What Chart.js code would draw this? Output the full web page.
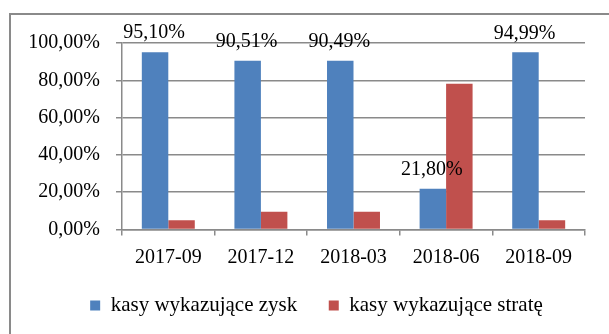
<!DOCTYPE html>
<html>
<head>
<meta charset="utf-8">
<script src="https://cdn.jsdelivr.net/npm/chart.js@4"></script>
<style>
    html, body { margin: 0; padding: 0; background: #fff; overflow: hidden; }
    #frame {
        position: absolute; left: 9px; top: 13px;
        width: 700px; height: 400px;
        border: 2px solid #8a8a8a;
    }
    #wrap { position: absolute; left: 0; top: 0; width: 609px; height: 334px; }
</style>
</head>
<body>
<div id="frame"></div>
<div id="wrap"><canvas id="kasyChart"></canvas></div>
<script>
// Quarterly share of funds reporting profit vs. loss
const periods = ['2017-09', '2017-12', '2018-03', '2018-06', '2018-09'];
const profitShare = [95.10, 90.51, 90.49, 21.80, 94.99];
const lossShare = [4.90, 9.49, 9.51, 78.20, 5.01];
const yTicks = [0, 20, 40, 60, 80, 100];

const serif = "'Liberation Serif', 'Times New Roman', serif";
const gridColor = '#8a8a8a';

Chart.defaults.font.family = serif;
Chart.defaults.font.size = 20;
Chart.defaults.color = '#000';

function pct(v) {
    return v.toFixed(2).replace('.', ',') + '%';
}

// Value labels above the profit bars
const valueLabels = {
    id: 'valueLabels',
    afterDatasetsDraw(chart) {
        const ctx = chart.ctx;
        const meta = chart.getDatasetMeta(0);
        ctx.save();
        ctx.font = '20px ' + serif;
        ctx.fillStyle = '#000';
        ctx.textAlign = 'center';
        ctx.textBaseline = 'middle';
        meta.data.forEach((bar, i) => {
            ctx.fillText(pct(profitShare[i]), bar.x - 1, bar.y - 19);
        });
        ctx.restore();
    }
};

// Nudge the legend right so it sits centred under the plot rather than the canvas
const legendShift = {
    id: 'legendShift',
    afterLayout(chart) {
        chart.legend.left += 24;
        chart.legend.right += 24;
    }
};

const ctx = document.getElementById('kasyChart').getContext('2d');
const kasyChart = new Chart(ctx, {
    type: 'bar',
    data: {
        labels: periods,
        datasets: [
            {
                label: 'kasy wykazujące zysk',
                data: profitShare,
                backgroundColor: '#4f81bd',
                categoryPercentage: 0.572,
                barPercentage: 1
            },
            {
                label: 'kasy wykazujące stratę',
                data: lossShare,
                backgroundColor: '#c0504d',
                categoryPercentage: 0.572,
                barPercentage: 1
            }
        ]
    },
    options: {
        responsive: true,
        maintainAspectRatio: false,
        animation: false,
        layout: {
            padding: { top: 43, right: 24, left: 0, bottom: 8 }
        },
        scales: {
            y: {
                min: 0,
                max: 100,
                afterBuildTicks: axis => { axis.ticks = yTicks.map(v => ({ value: v })); },
                afterFit: axis => { axis.width = 122; },
                grid: { color: gridColor, lineWidth: 1.5, tickLength: 6 },
                border: { color: gridColor, width: 1.5 },
                ticks: {
                    padding: 16,
                    callback: v => pct(v)
                }
            },
            x: {
                afterFit: axis => { axis.height = 34; },
                grid: { color: gridColor, lineWidth: 1.5, drawOnChartArea: false, tickLength: 6, offset: true },
                border: { color: gridColor, width: 1.5 },
                ticks: { padding: 10 }
            }
        },
        plugins: {
            legend: {
                position: 'bottom',
                labels: {
                    boxWidth: 10,
                    boxHeight: 10,
                    padding: 31.5,
                    font: { family: serif, size: 21 }
                }
            },
            tooltip: { enabled: false }
        }
    },
    plugins: [valueLabels, legendShift]
});
</script>
</body>
</html>
